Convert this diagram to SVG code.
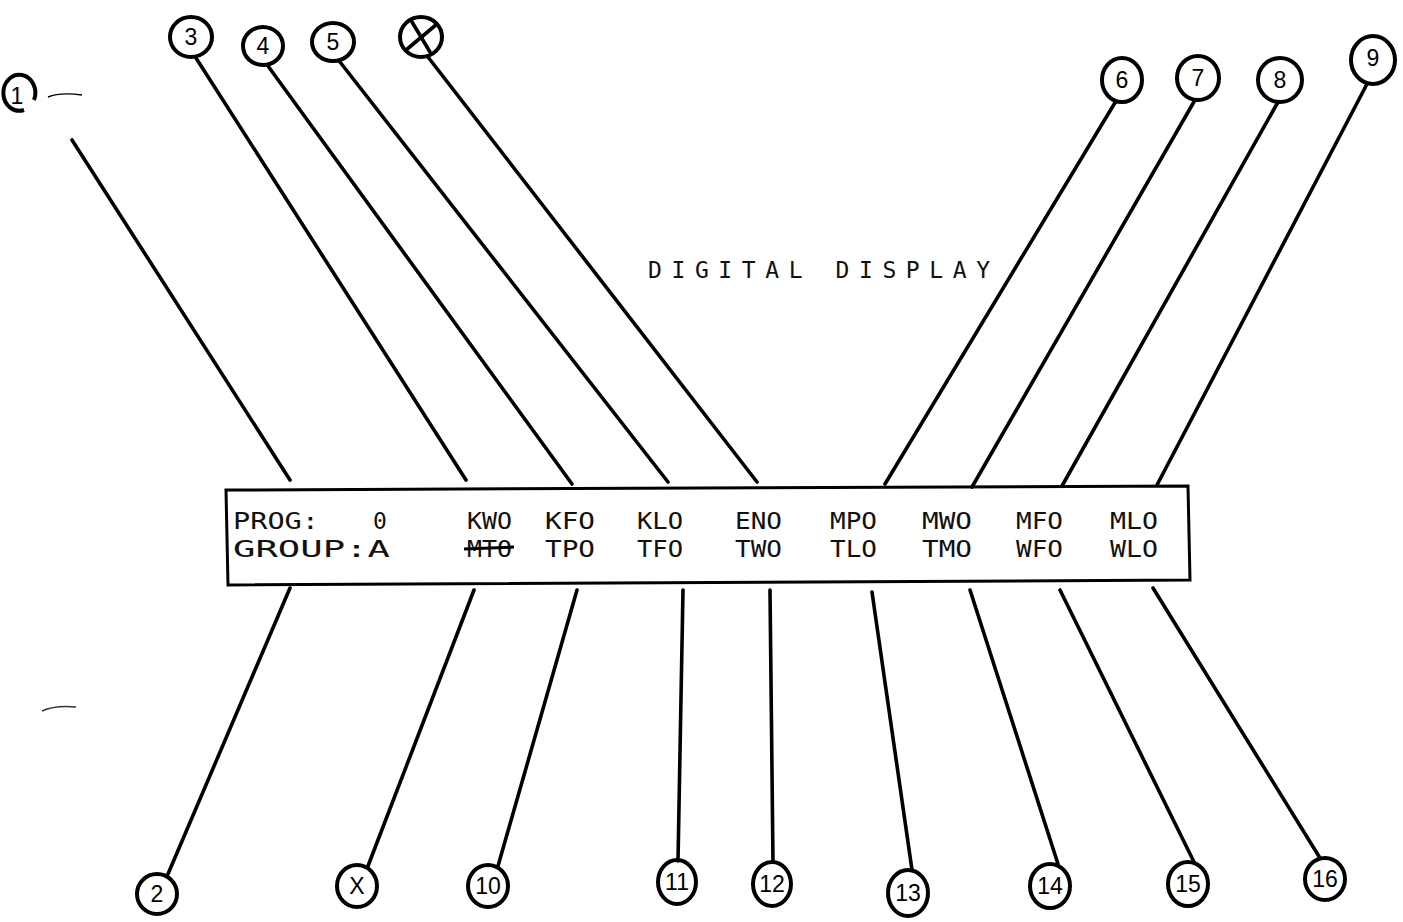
<svg xmlns="http://www.w3.org/2000/svg" width="1403" height="922" viewBox="0 0 1403 922">
<style>
.c{fill:none;stroke:#000;stroke-width:4}
.l{stroke:#000;stroke-width:3.6;stroke-linecap:round;fill:none}
.n{font-family:"Liberation Sans",sans-serif;font-size:23px;fill:#000;text-anchor:middle}
.d{font-family:"DejaVu Sans Mono","Liberation Mono",monospace;font-size:23px;fill:#111}
</style>
<rect width="1403" height="922" fill="#fff"/>
<g id="display">
<polygon points="226,490 1188,486 1190,580 228,585" fill="none" stroke="#000" stroke-width="3"/>
<text class="d" x="233" y="529" textLength="86" lengthAdjust="spacingAndGlyphs">PROG:</text>
<text class="d" x="373" y="529">0</text>
<text class="d" x="467" y="529" textLength="45" lengthAdjust="spacingAndGlyphs">KWO</text>
<text class="d" x="545" y="529" textLength="50" lengthAdjust="spacingAndGlyphs">KFO</text>
<text class="d" x="637" y="529" textLength="46" lengthAdjust="spacingAndGlyphs">KLO</text>
<text class="d" x="735" y="529" textLength="47" lengthAdjust="spacingAndGlyphs">ENO</text>
<text class="d" x="830" y="529" textLength="47" lengthAdjust="spacingAndGlyphs">MPO</text>
<text class="d" x="922" y="529" textLength="50" lengthAdjust="spacingAndGlyphs">MWO</text>
<text class="d" x="1016" y="529" textLength="47" lengthAdjust="spacingAndGlyphs">MFO</text>
<text class="d" x="1110" y="529" textLength="48" lengthAdjust="spacingAndGlyphs">MLO</text>
<text class="d" x="233" y="557" textLength="157" lengthAdjust="spacingAndGlyphs">GROUP:A</text>
<text class="d" x="467" y="557" textLength="45" lengthAdjust="spacingAndGlyphs">MTO</text>
<line x1="464" y1="549" x2="514" y2="547" stroke="#000" stroke-width="3"/>
<text class="d" x="545" y="557" textLength="50" lengthAdjust="spacingAndGlyphs">TPO</text>
<text class="d" x="637" y="557" textLength="46" lengthAdjust="spacingAndGlyphs">TFO</text>
<text class="d" x="735" y="557" textLength="47" lengthAdjust="spacingAndGlyphs">TWO</text>
<text class="d" x="830" y="557" textLength="47" lengthAdjust="spacingAndGlyphs">TLO</text>
<text class="d" x="922" y="557" textLength="50" lengthAdjust="spacingAndGlyphs">TMO</text>
<text class="d" x="1016" y="557" textLength="47" lengthAdjust="spacingAndGlyphs">WFO</text>
<text class="d" x="1110" y="557" textLength="48" lengthAdjust="spacingAndGlyphs">WLO</text>
</g>
<g id="title">
<text class="d" x="648" y="278" font-size="25" textLength="342" lengthAdjust="spacing">DIGITAL DISPLAY</text>
</g>
<g id="connectors">
<line class="l" x1="72" y1="140" x2="290" y2="480"/>
<line class="l" x1="196" y1="58" x2="466" y2="480"/>
<line class="l" x1="268" y1="66" x2="572" y2="484"/>
<line class="l" x1="340" y1="62" x2="668" y2="482"/>
<line class="l" x1="428" y1="57" x2="757" y2="482"/>
<line class="l" x1="1116" y1="101" x2="885" y2="484"/>
<line class="l" x1="1195" y1="100" x2="972" y2="487"/>
<line class="l" x1="1278" y1="102" x2="1062" y2="486"/>
<line class="l" x1="1367" y1="84" x2="1157" y2="485"/>
<line class="l" x1="290" y1="588" x2="168" y2="874"/>
<line class="l" x1="474" y1="590" x2="368" y2="866"/>
<line class="l" x1="577" y1="590" x2="498" y2="866"/>
<line class="l" x1="683" y1="590" x2="678" y2="861"/>
<line class="l" x1="770" y1="590" x2="773" y2="862"/>
<line class="l" x1="872" y1="592" x2="912" y2="870"/>
<line class="l" x1="970" y1="590" x2="1058" y2="864"/>
<line class="l" x1="1060" y1="590" x2="1194" y2="862"/>
<line class="l" x1="1153" y1="588" x2="1320" y2="858"/>
</g>
<g id="marks">
<path d="M48,97 Q60,92 82,95" stroke="#000" stroke-width="1.5" fill="none"/>
<path d="M42,711 Q55,705 76,707" stroke="#333" stroke-width="1.5" fill="none"/>
</g>
<g id="n1"><path class="c" d="M34,100 A16,18 0 1 0 24,110"/><text class="n" x="17" y="104">1</text></g>
<g id="n3"><ellipse class="c" cx="191" cy="37" rx="21" ry="20"/><text class="n" x="191" y="45">3</text></g>
<g id="n4"><ellipse class="c" cx="263" cy="46" rx="20" ry="19"/><text class="n" x="263" y="54">4</text></g>
<g id="n5"><ellipse class="c" cx="333" cy="42" rx="21" ry="19"/><text class="n" x="333" y="50">5</text></g>
<g id="nx1"><ellipse class="c" cx="421" cy="37" rx="21" ry="20"/><line class="l" x1="406" y1="50" x2="437" y2="24"/><line class="l" x1="412" y1="22" x2="430" y2="52"/></g>
<g id="n6"><ellipse class="c" cx="1122" cy="80" rx="20" ry="22"/><text class="n" x="1122" y="88">6</text></g>
<g id="n7"><ellipse class="c" cx="1198" cy="78" rx="21" ry="22"/><text class="n" x="1198" y="86">7</text></g>
<g id="n8"><ellipse class="c" cx="1280" cy="80" rx="22" ry="22"/><text class="n" x="1280" y="88">8</text></g>
<g id="n9"><ellipse class="c" cx="1373" cy="60" rx="22" ry="24"/><text class="n" x="1373" y="66">9</text></g>
<g id="n2"><ellipse class="c" cx="157" cy="894" rx="20" ry="20"/><text class="n" x="157" y="902">2</text></g>
<g id="nx2"><ellipse class="c" cx="357" cy="886" rx="20" ry="21"/><text class="n" x="357" y="894">X</text></g>
<g id="n10"><ellipse class="c" cx="488" cy="886" rx="20" ry="21"/><text class="n" x="488" y="894">10</text></g>
<g id="n11"><ellipse class="c" cx="677" cy="882" rx="19" ry="22"/><text class="n" x="677" y="890">11</text></g>
<g id="n12"><ellipse class="c" cx="772" cy="884" rx="19" ry="22"/><text class="n" x="772" y="892">12</text></g>
<g id="n13"><ellipse class="c" cx="908" cy="893" rx="20" ry="23"/><text class="n" x="908" y="901">13</text></g>
<g id="n14"><ellipse class="c" cx="1050" cy="886" rx="20" ry="22"/><text class="n" x="1050" y="894">14</text></g>
<g id="n15"><ellipse class="c" cx="1188" cy="884" rx="20" ry="22"/><text class="n" x="1188" y="892">15</text></g>
<g id="n16"><ellipse class="c" cx="1325" cy="879" rx="20" ry="21"/><text class="n" x="1325" y="887">16</text></g>
</svg>
